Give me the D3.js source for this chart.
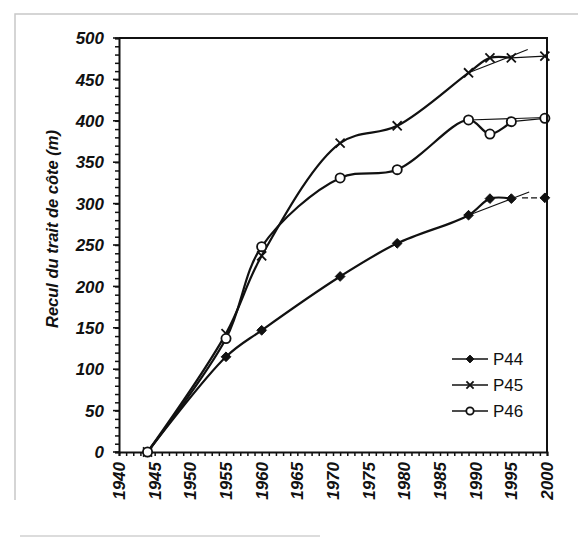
<!DOCTYPE html>
<html>
<head>
<meta charset="utf-8">
<script src="https://cdn.jsdelivr.net/npm/d3@7"></script>
<style>
  body { margin: 0; background: #fff; }
  svg { display: block; }
</style>
</head>
<body>
<svg id="chart"></svg>
<script>
// measured points (year, retreat in m)
var years = [1944, 1955, 1960, 1971, 1979, 1989, 1992, 1995];
var p44 = [0, 115, 147, 212, 252, 286, 306, 306];
var p45 = [0, 143, 237, 373, 394, 458, 476, 476];
var p46 = [0, 137, 248, 331, 341, 401, 384, 399];

// last point, at the right edge
var endYear = 1999.7;
var endValues = [307, 478, 403];

// thin trend lines drawn from the 1989 point
var trendFrom = 1989;
var trendTo = [1997.5, 1997.3, 1999.7];
var trendValues = [314, 486, 404];

var seriesNames = ["P44", "P45", "P46"];
var xTicks = [1940, 1945, 1950, 1955, 1960, 1965, 1970, 1975, 1980, 1985, 1990, 1995, 2000];
var yTicks = [0, 50, 100, 150, 200, 250, 300, 350, 400, 450, 500];

var width = 580, height = 540;
var svg = d3.select("#chart").attr("width", width).attr("height", height);

// faint scan frame
svg.append("path")
  .attr("d", "M15,500 L15,14 L578,14")
  .attr("fill", "none").attr("stroke", "#c8c8c8").attr("stroke-width", 1.5);
svg.append("line")
  .attr("x1", 20).attr("x2", 320).attr("y1", 536).attr("y2", 536)
  .attr("stroke", "#d0d0d0").attr("stroke-width", 1.5);

var x = d3.scaleLinear().domain([1940, 2000]).range([119, 547]);
var y = d3.scaleLinear().domain([0, 500]).range([452, 38]);

var labelFont = "'Liberation Sans', Arial, sans-serif";

// frame top + right
svg.append("path")
  .attr("d", "M" + x(1940) + "," + y(500) + " L" + x(2000) + "," + y(500) + " L" + x(2000) + "," + y(0))
  .attr("fill", "none").attr("stroke", "#111").attr("stroke-width", 2);

// y axis
var yAxis = svg.append("g").attr("transform", "translate(" + x(1940) + ",0)")
  .call(d3.axisLeft(y).tickValues(d3.range(0, 501, 10)).tickSize(4).tickFormat(""));
yAxis.select(".domain").attr("stroke", "#111").attr("stroke-width", 2);
yAxis.selectAll(".tick line").attr("stroke", "#111").attr("stroke-width", 1.5);

yTicks.forEach(function(v) {
  svg.append("line")
    .attr("x1", x(1940) - 6).attr("x2", x(1940))
    .attr("y1", y(v)).attr("y2", y(v))
    .attr("stroke", "#111").attr("stroke-width", 1.6);
  svg.append("text")
    .text(v)
    .attr("x", x(1940) - 15)
    .attr("y", y(v))
    .attr("dy", "0.36em")
    .attr("text-anchor", "end")
    .style("font-family", labelFont)
    .style("font-size", "17px")
    .style("font-weight", "bold")
    .style("font-style", "italic")
    .attr("fill", "#111");
});

// x axis
var xAxis = svg.append("g").attr("transform", "translate(0," + y(0) + ")")
  .call(d3.axisBottom(x).tickValues(d3.range(1940, 2001, 1)).tickSize(4).tickFormat(""));
xAxis.select(".domain").attr("stroke", "#111").attr("stroke-width", 2);
xAxis.selectAll(".tick line").attr("stroke", "#111").attr("stroke-width", 1.5);

xTicks.forEach(function(v) {
  svg.append("text")
    .text(v)
    .attr("transform", "translate(" + x(v) + "," + (y(0) + 10) + ") rotate(-90)")
    .attr("dy", "0.36em")
    .attr("text-anchor", "end")
    .style("font-family", labelFont)
    .style("font-size", "17px")
    .style("font-weight", "bold")
    .style("font-style", "italic")
    .attr("fill", "#111");
});

// y title
svg.append("text")
  .text("Recul du trait de côte (m)")
  .attr("transform", "translate(52,229) rotate(-90)")
  .attr("text-anchor", "middle")
  .attr("dy", "0.36em")
  .style("font-family", labelFont)
  .style("font-size", "16.5px")
  .style("font-weight", "bold")
  .style("font-style", "italic")
  .attr("fill", "#111");

var line = d3.line()
  .x(function(d) { return x(d[0]); })
  .y(function(d) { return y(d[1]); })
  .curve(d3.curveCatmullRom.alpha(0.5));

var allSeries = [p44, p45, p46];

function marker(g, kind, cx, cy, s) {
  s = s || 1;
  if (kind == 0) {
    g.append("path")
      .attr("d", d3.symbol().type(d3.symbolDiamond2).size(60 * s * s)())
      .attr("transform", "translate(" + cx + "," + cy + ")")
      .attr("fill", "#111").attr("stroke", "#111").attr("stroke-width", 1);
  } else if (kind == 1) {
    g.append("path")
      .attr("d", d3.symbol().type(d3.symbolTimes).size(55 * s * s)())
      .attr("transform", "translate(" + cx + "," + cy + ")")
      .attr("fill", "none").attr("stroke", "#111").attr("stroke-width", 1.8);
  } else {
    g.append("circle")
      .attr("cx", cx).attr("cy", cy).attr("r", 4.6 * s)
      .attr("fill", "#fff").attr("stroke", "#111").attr("stroke-width", 1.8);
  }
}

allSeries.forEach(function(vals, k) {
  var g = svg.append("g");
  var pts = years.map(function(yr, i) { return [yr, vals[i]]; });
  var lastPt = pts[pts.length - 1];
  var trendStart = pts[years.indexOf(trendFrom)];

  // thin trend line
  g.append("line")
    .attr("x1", x(trendStart[0])).attr("y1", y(trendStart[1]))
    .attr("x2", x(trendTo[k])).attr("y2", y(trendValues[k]))
    .attr("stroke", "#111").attr("stroke-width", 1.1);

  // extension to the last measure
  g.append("line")
    .attr("x1", x(k == 0 ? 1996.5 : lastPt[0])).attr("y1", y(k == 0 ? 307 : lastPt[1]))
    .attr("x2", x(endYear)).attr("y2", y(endValues[k]))
    .attr("stroke", "#111").attr("stroke-width", 1.3)
    .attr("stroke-dasharray", k == 0 ? "6,3" : null);

  // main curve
  g.append("path")
    .attr("d", line(pts))
    .attr("fill", "none").attr("stroke", "#111").attr("stroke-width", 2.2);

  pts.forEach(function(p) { marker(g, k, x(p[0]), y(p[1])); });
  marker(g, k, x(endYear), y(endValues[k]));
});

// redraw right frame line over end markers
svg.append("line")
  .attr("x1", x(2000)).attr("x2", x(2000)).attr("y1", y(500)).attr("y2", y(0))
  .attr("stroke", "#111").attr("stroke-width", 2);

// legend
var legendY = [359, 385, 411];
seriesNames.forEach(function(name, k) {
  var g = svg.append("g");
  g.append("line")
    .attr("x1", 452).attr("x2", 488).attr("y1", legendY[k]).attr("y2", legendY[k])
    .attr("stroke", "#111").attr("stroke-width", 1.6);
  marker(g, k, 470, legendY[k], 0.8);
  g.append("text")
    .text(name)
    .attr("x", 493).attr("y", legendY[k])
    .attr("dy", "0.36em")
    .style("font-family", labelFont)
    .style("font-size", "17px")
    .attr("fill", "#111");
});
</script>
</body>
</html>
